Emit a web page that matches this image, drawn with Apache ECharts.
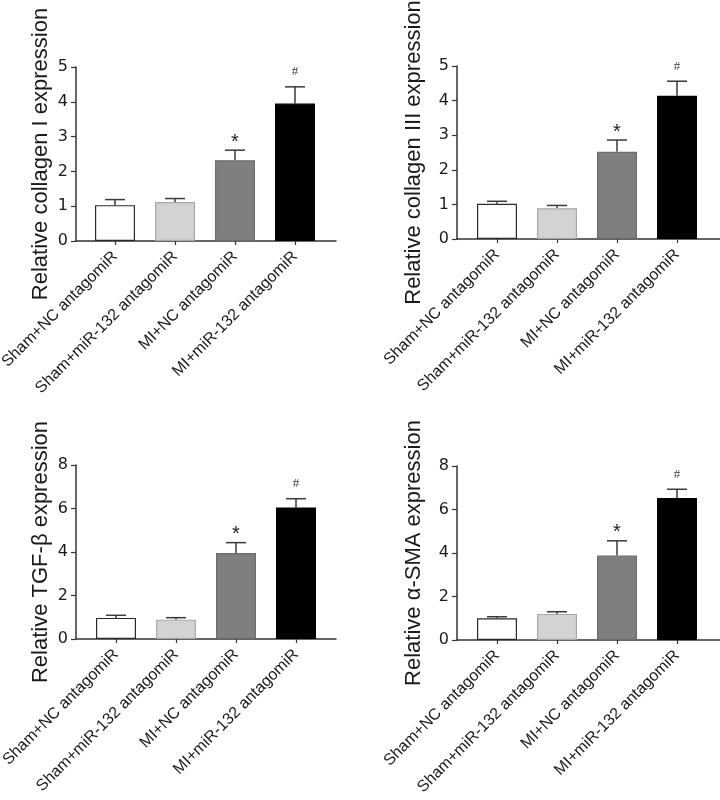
<!DOCTYPE html>
<html>
<head>
<meta charset="utf-8">
<script src="https://cdn.jsdelivr.net/npm/echarts@6/dist/echarts.min.js"></script>
<style>
  html, body { margin: 0; padding: 0; background: #ffffff; }
  #chart { width: 720px; height: 800px; }
</style>
</head>
<body>
<div id="chart"></div>
<script>
// ---- data ----
const categories = ['Sham+NC antagomiR', 'Sham+miR-132 antagomiR', 'MI+NC antagomiR', 'MI+miR-132 antagomiR'];
const collagenIMean = [1.03, 1.12, 2.32, 3.95];
const collagenIErr = [0.16, 0.10, 0.29, 0.48];
const collagenIIIMean = [1.02, 0.89, 2.52, 4.14];
const collagenIIIErr = [0.07, 0.08, 0.34, 0.42];
const tgfMean = [0.97, 0.89, 3.95, 6.05];
const tgfErr = [0.12, 0.09, 0.48, 0.40];
const smaMean = [1.00, 1.20, 3.88, 6.53];
const smaErr = [0.07, 0.10, 0.68, 0.40];
const markers = ['', '', '*', '#'];
const yTitles = ['Relative collagen I expression', 'Relative collagen III expression', 'Relative TGF-\u03b2 expression', 'Relative \u03b1-SMA expression'];
const yMaxes = [5, 5, 8, 8];
const yIntervals = [1, 1, 2, 2];

// ---- styles / layout ----
const barColors = ['#ffffff', '#d3d3d3', '#7f7f7f', '#000000'];
const barBorders = ['#2a2a2a', '#a8a8a8', '#6c6c6c', '#000000'];
const FONT = 'Liberation Sans, Arial, sans-serif';
const panels = [
  { mean: collagenIMean, err: collagenIErr, axisX: 76, barLeft: 85, top: 67, height: 174, lineW: 260, nameGap: 24 },
  { mean: collagenIIIMean, err: collagenIIIErr, axisX: 457, barLeft: 467, top: 66, height: 173, lineW: 265, nameGap: 32 },
  { mean: tgfMean, err: tgfErr, axisX: 76, barLeft: 86, top: 465, height: 174, lineW: 260, nameGap: 24 },
  { mean: smaMean, err: smaErr, axisX: 457, barLeft: 467, top: 466, height: 174, lineW: 265, nameGap: 32 }
];

const grid = [], xAxis = [], yAxis = [], series = [];
panels.forEach((p, k) => {
  const ga = 2 * k, gb = 2 * k + 1;
  grid.push({ left: p.barLeft, top: p.top, width: 240, height: p.height, containLabel: false, outerBoundsMode: 'none' });
  grid.push({ left: p.axisX, top: p.top, width: p.lineW, height: p.height, containLabel: false, outerBoundsMode: 'none' });
  xAxis.push({
    type: 'category', gridIndex: ga, data: categories,
    axisLine: { show: false },
    axisTick: { show: true, alignWithLabel: true, length: 4, lineStyle: { color: '#333', width: 1.2 } },
    axisLabel: { rotate: 45, interval: 0, fontSize: 16, margin: 13, color: '#1a1a1a', fontFamily: FONT },
    splitLine: { show: false }
  });
  xAxis.push({
    type: 'value', gridIndex: gb, min: 0, max: 1,
    axisLine: { show: true, lineStyle: { color: '#333', width: 1.5 } },
    axisTick: { show: false }, axisLabel: { show: false }, splitLine: { show: false }
  });
  yAxis.push({ type: 'value', gridIndex: ga, min: 0, max: yMaxes[k], interval: yIntervals[k], show: false, splitLine: { show: false } });
  yAxis.push({
    type: 'value', gridIndex: gb, min: 0, max: yMaxes[k], interval: yIntervals[k],
    axisLine: { show: true, lineStyle: { color: '#333', width: 1.5 } },
    axisTick: { show: true, length: 5, lineStyle: { color: '#333', width: 1.2 } },
    axisLabel: { fontSize: 16, margin: 8, color: '#1a1a1a', fontFamily: 'DejaVu Sans, sans-serif' },
    splitLine: { show: false },
    name: yTitles[k], nameLocation: 'middle', nameGap: p.nameGap,
    nameTextStyle: { fontSize: 22, color: '#1a1a1a', fontFamily: FONT }
  });
  series.push({
    type: 'bar', xAxisIndex: ga, yAxisIndex: ga, barWidth: 40,
    data: p.mean.map((v, i) => ({ value: v, itemStyle: { color: barColors[i], borderColor: barBorders[i], borderWidth: 1.2 } })),
    silent: true, animation: false
  });
  series.push({
    type: 'custom', xAxisIndex: ga, yAxisIndex: ga, animation: false, silent: true,
    data: p.mean.map((v, i) => [i, v, p.err[i]]),
    renderItem: function (params, api) {
      const x = api.value(0), m = api.value(1), e = api.value(2);
      const base = api.coord([x, m]);
      const top = api.coord([x, m + e]);
      const cap = 10;
      const ls = { stroke: '#3a3a3a', lineWidth: 1.5 };
      const children = [
        { type: 'line', shape: { x1: base[0], y1: base[1], x2: top[0], y2: top[1] }, style: ls },
        { type: 'line', shape: { x1: top[0] - cap, y1: top[1], x2: top[0] + cap, y2: top[1] }, style: ls }
      ];
      const mk = markers[params.dataIndex];
      if (mk === '*') {
        children.push({ type: 'text', x: top[0], y: top[1] - 8, style: { text: mk, fontSize: 20, fontFamily: FONT, fill: '#222', align: 'center', verticalAlign: 'middle' } });
      } else if (mk) {
        children.push({ type: 'text', x: top[0], y: top[1] - 15, style: { text: mk, fontSize: 13, fontFamily: 'Liberation Serif, Times New Roman, serif', fill: '#444', align: 'center', verticalAlign: 'middle' } });
      }
      return { type: 'group', children: children };
    }
  });
});

const chart = echarts.init(document.getElementById('chart'), null, { renderer: 'canvas' });
chart.setOption({ backgroundColor: '#ffffff', animation: false, grid, xAxis, yAxis, series });
</script>
</body>
</html>
